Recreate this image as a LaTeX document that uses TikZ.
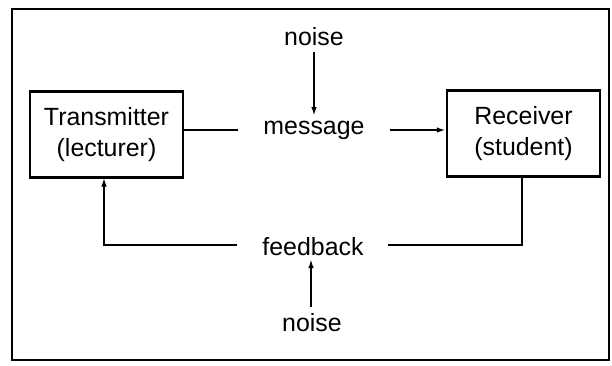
\documentclass[tikz,border=0pt]{standalone}
\usepackage{fontspec}
\setmainfont{Liberation Sans}
\usetikzlibrary{arrows.meta}
\begin{document}
\begin{tikzpicture}[x=1bp,y=-1bp,
  line width=2.1bp,
  lbl/.style={font=\fontsize{25}{28}\selectfont, inner sep=0pt, align=center},
  boxnode/.style={draw, line width=2.5bp, minimum width=153bp, minimum height=86bp, inner sep=0pt, align=center, font=\fontsize{25}{31}\selectfont},
  arr/.style={-{Latex[length=9bp,width=5.5bp]}}]
\useasboundingbox (0,0) rectangle (612,365);
\draw[line width=2bp] (12,9) rectangle (609,360);
\node[boxnode] (tx) at (106.5,134.5) {Transmitter\\(lecturer)};
\node[boxnode] (rx) at (523.5,133.5) {Receiver\\(student)};
\node[lbl] (ntop) at (314,37) {noise};
\node[lbl] (msg) at (314,130) {message};
\node[lbl] (fb) at (313,247) {feedback};
\node[lbl] (nbot) at (312,323) {noise};
\coordinate (m1) at (238,130);
\coordinate (m2) at (390,130);
\coordinate (f1) at (237,245);
\coordinate (f2) at (388,245);
\draw[arr] (314,52) -- (314,116);
\draw (tx.east |- m1) -- (m1);
\draw[arr] (m2) -- (rx.west |- m2);
\draw (rx.south -| 522,0) -- (522,245) -- (f2);
\draw[arr] (f1) -- (104,245) -- (104,177.5);
\draw[arr] (311,307) -- (311,259);
\end{tikzpicture}
\end{document}
